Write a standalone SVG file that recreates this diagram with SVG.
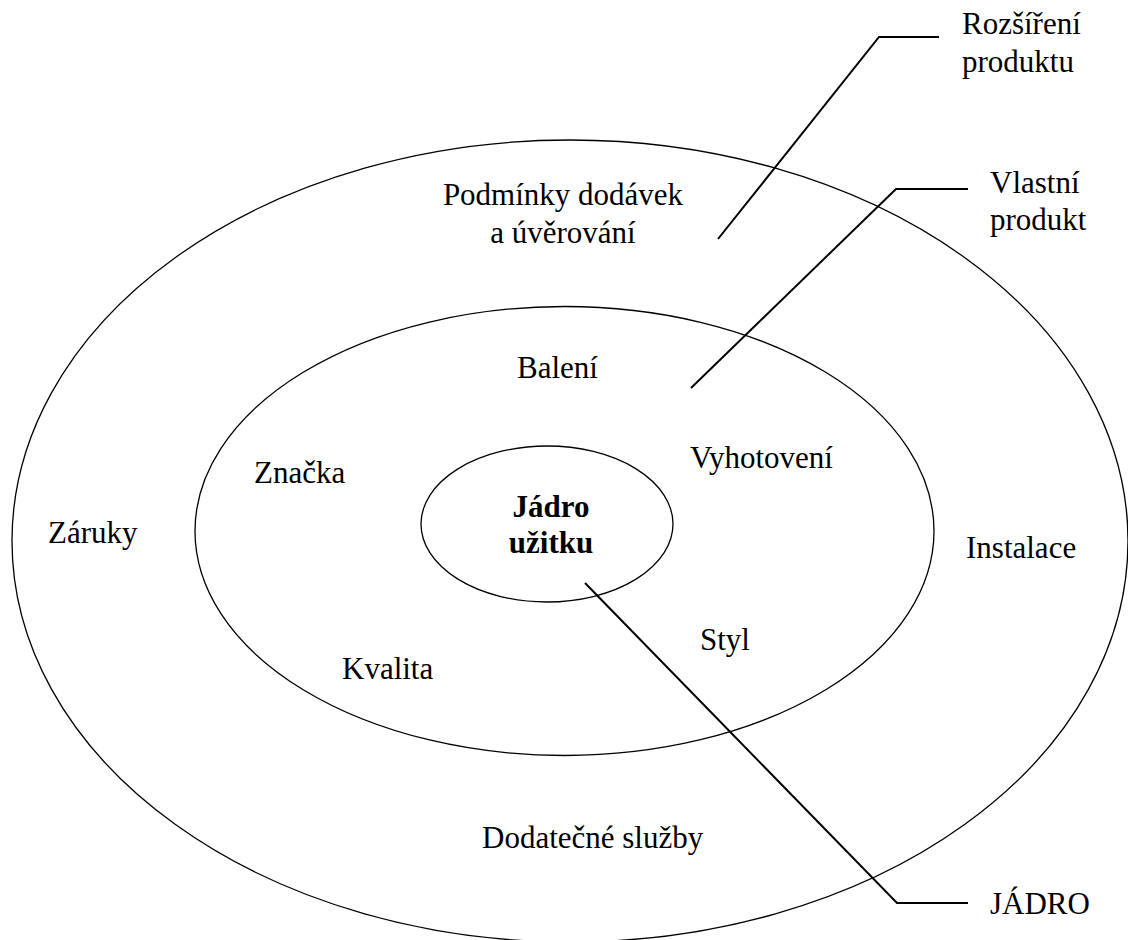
<svg xmlns="http://www.w3.org/2000/svg" width="1128" height="940" viewBox="0 0 1128 940">
<style>
.ring{fill:none;stroke:#000;stroke-width:1.3}
.lead{fill:none;stroke:#000;stroke-width:2}
.t{font-family:'Liberation Serif','DejaVu Serif',serif;font-size:31px;fill:#000}
.b{font-weight:bold}
.m{text-anchor:middle}
</style>
<rect width="1128" height="940" fill="#fff"/>
<g id="outer">
<ellipse class="ring" cx="570" cy="541" rx="558" ry="401"/>
<text class="t m" font-family="Liberation Serif, serif" x="563" y="205">Podmínky dodávek</text>
<text class="t m" font-family="Liberation Serif, serif" x="563" y="243">a úvěrování</text>
<text class="t" font-family="Liberation Serif, serif" x="48" y="543">Záruky</text>
<text class="t" font-family="Liberation Serif, serif" x="966" y="558">Instalace</text>
<text class="t" font-family="Liberation Serif, serif" x="482" y="848">Dodatečné služby</text>
</g>
<g id="middle">
<ellipse class="ring" cx="564.5" cy="531" rx="369.5" ry="224.5"/>
<text class="t" font-family="Liberation Serif, serif" x="517" y="378">Balení</text>
<text class="t" font-family="Liberation Serif, serif" x="254" y="483">Značka</text>
<text class="t" font-family="Liberation Serif, serif" x="690" y="468">Vyhotovení</text>
<text class="t" font-family="Liberation Serif, serif" x="700" y="650">Styl</text>
<text class="t" font-family="Liberation Serif, serif" x="342" y="679">Kvalita</text>
</g>
<g id="core">
<ellipse class="ring" cx="547" cy="524" rx="126" ry="78"/>
<text class="t b m" font-family="Liberation Serif, serif" x="551" y="517">Jádro</text>
<text class="t b m" font-family="Liberation Serif, serif" x="551" y="553">užitku</text>
</g>
<g id="connectors">
<polyline class="lead" points="718,239 879,37 939,37"/>
<polyline class="lead" points="691,388 896,189 968,189"/>
<polyline class="lead" points="585,583 897,903 968,903"/>
</g>
<g id="label-rozsireni">
<text class="t" font-family="Liberation Serif, serif" x="962" y="34">Rozšíření</text>
<text class="t" font-family="Liberation Serif, serif" x="962" y="72">produktu</text>
</g>
<g id="label-vlastni">
<text class="t" font-family="Liberation Serif, serif" x="990" y="193">Vlastní</text>
<text class="t" font-family="Liberation Serif, serif" x="990" y="230">produkt</text>
</g>
<g id="label-jadro">
<text class="t" font-family="Liberation Serif, serif" x="990" y="914">JÁDRO</text>
</g>
</svg>
